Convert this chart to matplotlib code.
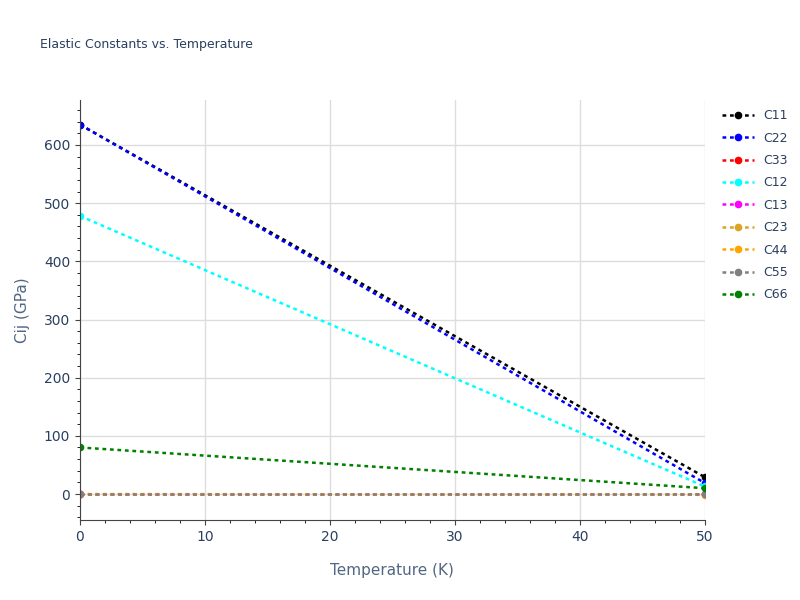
import matplotlib.pyplot as plt

temps = [0, 50]
names = ["C11", "C22", "C33", "C12", "C13", "C23", "C44", "C55", "C66"]
colors = ["black", "blue", "red", "cyan", "magenta", "goldenrod", "orange", "gray", "green"]
values = {
    "C11": [635, 29],
    "C22": [635, 19],
    "C33": [0, 0],
    "C12": [478, 13],
    "C13": [0, 0],
    "C23": [0, 0],
    "C44": [0, -1],
    "C55": [0, 0],
    "C66": [80, 10],
}

fig = plt.figure(figsize=(8, 6), dpi=100)
ax = fig.add_axes([0.1, 0.133, 0.781, 0.7])
for n, c in zip(names, colors):
    ax.plot(temps, values[n], linestyle=(0, (1.5, 1.5)), lw=1.8, color=c, marker="o", ms=4.5, label=n)
ax.set_xlim(0, 50)
ax.set_ylim(-45, 677)
ax.set_xticks([0, 10, 20, 30, 40, 50])
ax.set_yticks([0, 100, 200, 300, 400, 500, 600])
ax.grid(color="#dddddd", lw=1)
ax.set_axisbelow(True)
for s in ["top", "right"]:
    ax.spines[s].set_visible(False)
ax.spines["left"].set_color("#444")
ax.spines["bottom"].set_color("#444")
ax.tick_params(colors="#444", labelcolor="#2a3f5f", labelsize=10)
ax.minorticks_on()
ax.set_xlabel("Temperature (K)", color="#506784", fontsize=11, labelpad=14)
ax.set_ylabel("Cij (GPa)", color="#506784", fontsize=11, labelpad=10)
fig.text(0.05, 0.92, "Elastic Constants vs. Temperature", color="#2a3f5f", fontsize=9)
ax.legend(loc="upper left", bbox_to_anchor=(1.01, 1.005), frameon=False, fontsize=9, labelcolor="#2a3f5f", handlelength=2.5, labelspacing=0.75)
fig.savefig("out.png")
